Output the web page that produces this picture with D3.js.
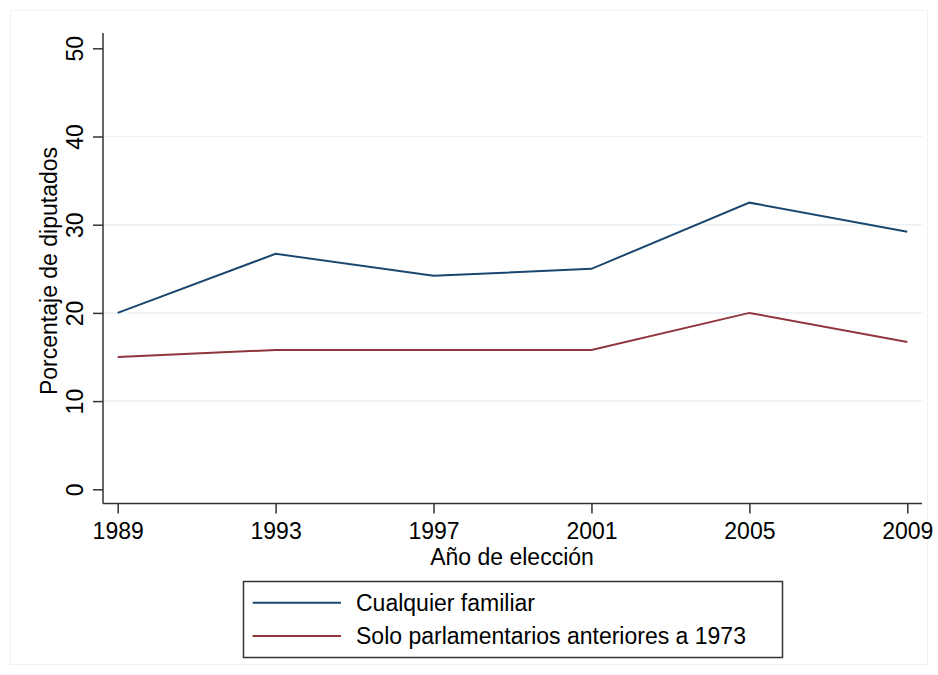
<!DOCTYPE html>
<html>
<head>
<meta charset="utf-8">
<script src="https://cdn.jsdelivr.net/npm/d3@7"></script>
<style>
  html, body { margin: 0; padding: 0; background: #ffffff; }
  svg { display: block; font-family: "Liberation Sans", Arial, sans-serif; }
</style>
</head>
<body>
<svg id="chart" width="938" height="675"></svg>
<script>
// Election years and share of deputies with family ties (%)
const years = [1989, 1993, 1997, 2001, 2005, 2009];
const anyRelative = [20.0, 26.7, 24.2, 25.0, 32.5, 29.2];
const pre1973Only = [15.0, 15.8, 15.8, 15.8, 20.0, 16.7];
const yTicks = [0, 10, 20, 30, 40, 50];
const gridTicks = [10, 20, 30, 40];
const seriesNames = ["Cualquier familiar", "Solo parlamentarios anteriores a 1973"];
const seriesColors = ["#1a476f", "#90353b"];

const fontSize = 23;
const svg = d3.select("#chart");

// faint outer frame
svg.append("rect")
  .attr("x", 10.5).attr("y", 10.5)
  .attr("width", 917).attr("height", 654)
  .attr("fill", "#ffffff")
  .attr("stroke", "#f2f2f2");

const x = d3.scaleLinear().domain([1989, 2009]).range([117.7, 907.3]);
const y = d3.scaleLinear().domain([0, 50]).range([489.3, 48.3]);

const plotLeft = 103, plotRight = 922, plotTop = 33, plotBottom = 503.5;

// gridlines
svg.append("g")
  .selectAll("line")
  .data(gridTicks)
  .join("line")
  .attr("x1", plotLeft).attr("x2", plotRight)
  .attr("y1", d => y(d)).attr("y2", d => y(d))
  .attr("stroke", "#eaf2f3")
  .attr("stroke-width", 1.5);

// y axis
const yAxis = svg.append("g")
  .attr("transform", `translate(${plotLeft},0)`)
  .call(d3.axisLeft(y).tickValues(yTicks).tickSize(10).tickSizeOuter(0).tickFormat(d3.format("d")));
yAxis.select(".domain").attr("d", `M0,${plotTop}V${plotBottom}`).attr("stroke", "#333").attr("stroke-width", 1.5);
yAxis.selectAll(".tick line").attr("stroke", "#333").attr("stroke-width", 1.5);
yAxis.selectAll(".tick text")
  .attr("x", null).attr("dy", null)
  .attr("transform", "translate(-20,0) rotate(-90)")
  .attr("text-anchor", "middle")
  .attr("font-size", fontSize)
  .attr("fill", "#000")
  .attr("font-family", "'Liberation Sans', Arial, sans-serif");

// x axis
const xAxis = svg.append("g")
  .attr("transform", `translate(0,${plotBottom})`)
  .call(d3.axisBottom(x).tickValues(years).tickSize(10).tickSizeOuter(0).tickFormat(d3.format("d")));
xAxis.select(".domain").attr("d", `M${plotLeft},0H${plotRight}`).attr("stroke", "#333").attr("stroke-width", 1.5);
xAxis.selectAll(".tick line").attr("stroke", "#333").attr("stroke-width", 1.5);
xAxis.selectAll(".tick text")
  .attr("y", 35).attr("dy", null)
  .attr("font-size", fontSize)
  .attr("fill", "#000")
  .attr("font-family", "'Liberation Sans', Arial, sans-serif");

// axis titles
svg.append("text")
  .attr("x", 512).attr("y", 565)
  .attr("text-anchor", "middle")
  .attr("font-size", fontSize)
  .text("Año de elección");

svg.append("text")
  .attr("transform", "translate(57,271) rotate(-90)")
  .attr("text-anchor", "middle")
  .attr("font-size", fontSize)
  .text("Porcentaje de diputados");

// series lines
const line = d3.line().x((d, i) => x(years[i])).y(d => y(d));
[anyRelative, pre1973Only].forEach((vals, k) => {
  svg.append("path")
    .datum(vals)
    .attr("d", line)
    .attr("fill", "none")
    .attr("stroke", seriesColors[k])
    .attr("stroke-width", 2)
    .attr("stroke-linejoin", "miter");
});

// legend
const legend = svg.append("g");
legend.append("rect")
  .attr("x", 243.5).attr("y", 581.5)
  .attr("width", 539).attr("height", 76)
  .attr("fill", "#fff")
  .attr("stroke", "#333")
  .attr("stroke-width", 1.5);
const legRows = [602.7, 636];
seriesNames.forEach((name, k) => {
  legend.append("line")
    .attr("x1", 252.7).attr("x2", 341)
    .attr("y1", legRows[k]).attr("y2", legRows[k])
    .attr("stroke", seriesColors[k])
    .attr("stroke-width", 2);
  legend.append("text")
    .attr("x", 356).attr("y", legRows[k] + 8)
    .attr("font-size", fontSize)
    .text(name);
});
</script>
</body>
</html>
